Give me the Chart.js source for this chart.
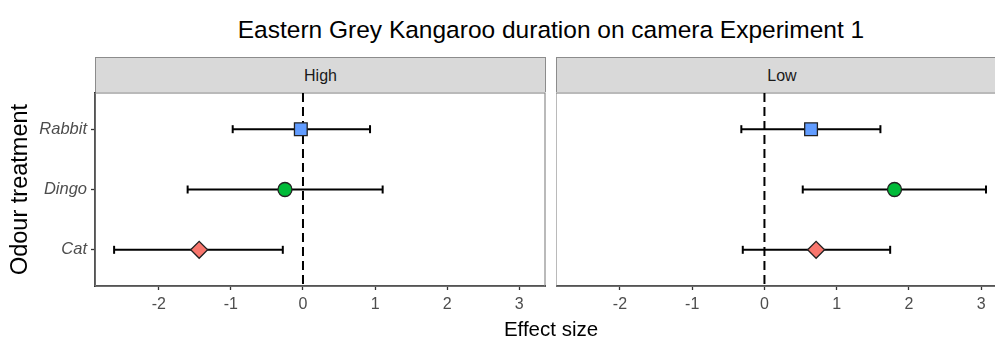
<!DOCTYPE html>
<html>
<head>
<meta charset="utf-8">
<script src="https://cdn.jsdelivr.net/npm/chart.js@4"></script>
<style>
  html, body { margin:0; padding:0; background:#fff; }
  body { width:995px; height:341px; overflow:hidden; position:relative; font-family:"Liberation Sans", Arial, sans-serif; }
  .abs { position:absolute; }
  #title { left:95px; width:912px; top:15px; text-align:center; font-size:24.5px; line-height:30px; color:#000; }
  #xtitle { left:95px; width:912px; top:317px; text-align:center; font-size:20.5px; line-height:24px; color:#000; }
  .strip { top:57px; height:35px; background:#d9d9d9; border:1px solid #8c8c8c; border-bottom:none; box-sizing:border-box;
           text-align:center; line-height:36px; font-size:16px; color:#1a1a1a; }
  #stripHigh { left:95px; width:451px; }
  #stripLow { left:556px; width:452px; }
  #wrapHigh { left:0; top:85px; width:546px; height:256px; }
  #wrapLow { left:556px; top:85px; width:452px; height:256px; }
</style>
</head>
<body>
<div id="title" class="abs">Eastern Grey Kangaroo duration on camera Experiment 1</div>
<div id="stripHigh" class="abs strip">High</div>
<div id="stripLow" class="abs strip">Low</div>
<div id="wrapHigh" class="abs"><canvas id="cHigh"></canvas></div>
<div id="wrapLow" class="abs"><canvas id="cLow"></canvas></div>
<div id="xtitle" class="abs">Effect size</div>
<script>
// ---- data ----
const categories = ['Rabbit', 'Dingo', 'Cat'];
const highEstimate = [-0.03, -0.25, -1.44];
const highLower    = [-0.975, -1.60, -2.62];
const highUpper    = [0.93, 1.105, -0.28];
const lowEstimate  = [0.645, 1.80, 0.715];
const lowLower     = [-0.32, 0.53, -0.30];
const lowUpper     = [1.605, 3.066, 1.74];
const xTicks = [-2, -1, 0, 1, 2, 3];
const panels = ['High', 'Low'];

// ---- styles ----
const markerStyles = ['rect', 'circle', 'rectRot'];
const markerColors = ['#619CFF', '#00BA38', '#F8766D'];
const markerRadii = [9, 7, 8.5];

Chart.defaults.font.family = '"Liberation Sans", Arial, sans-serif';

const panelBorder = {
  id: 'panelBorder',
  beforeDatasetsDraw(chart) {
    const a = chart.chartArea, ctx = chart.ctx;
    ctx.save();
    ctx.strokeStyle = '#8c8c8c';
    ctx.lineWidth = 1.2;
    ctx.strokeRect(a.left, a.top, a.right - a.left, a.bottom - a.top);
    ctx.restore();
  }
};

function zeroPad(s) { s.paddingLeft = 0; s.paddingRight = 0; s.paddingTop = 0; s.paddingBottom = 0; }

function makeChart(id, est, lo, hi, showY) {
  const datasets = [];
  datasets.push({
    label: 'estimate',
    data: categories.map((c, i) => ({ x: est[i], y: i + 1 })),
    pointStyle: markerStyles,
    pointRadius: markerRadii,
    pointHoverRadius: markerRadii,
    backgroundColor: markerColors,
    borderColor: '#222',
    borderWidth: 1.3,
    clip: false,
    order: 0
  });
  datasets.push({
    label: 'zero',
    data: [{ x: 0, y: 0.4 }, { x: 0, y: 3.6 }],
    showLine: true,
    borderColor: '#000',
    borderWidth: 2,
    borderDash: [9, 5],
    pointRadius: 0,
    clip: false,
    order: 1
  });
  categories.forEach((c, i) => {
    datasets.push({
      label: 'ci ' + c,
      data: [{ x: lo[i], y: i + 1 }, { x: hi[i], y: i + 1 }],
      showLine: true,
      borderColor: '#000',
      borderWidth: 2,
      pointStyle: 'line',
      pointRadius: 4,
      pointRotation: 90,
      pointBorderColor: '#000',
      pointBorderWidth: 2,
      clip: false,
      order: 2
    });
  });

  return new Chart(document.getElementById(id), {
    type: 'scatter',
    data: { datasets },
    plugins: [panelBorder],
    options: {
      responsive: true,
      maintainAspectRatio: false,
      animation: false,
      events: [],
      layout: { autoPadding: false, padding: { top: 8, right: 1, left: 0, bottom: 0 } },
      plugins: { legend: { display: false }, tooltip: { enabled: false }, title: { display: false } },
      scales: {
        x: {
          type: 'linear',
          min: -2.885,
          max: 3.357,
          afterBuildTicks: s => { s.ticks = xTicks.map(v => ({ value: v })); },
          afterFit: s => { s.height = 55; zeroPad(s); },
          ticks: { color: '#4d4d4d', font: { size: 16 }, padding: 5, autoSkip: false, maxRotation: 0,
                   callback: v => String(v) },
          grid: { drawOnChartArea: false, tickLength: 4, tickColor: '#333', tickWidth: 1.3 },
          border: { display: true, color: '#000', width: 1.8 }
        },
        y: {
          type: 'linear',
          display: showY,
          min: 0.4,
          max: 3.6,
          reverse: true,
          afterBuildTicks: s => { s.ticks = categories.map((c, i) => ({ value: i + 1 })); },
          afterFit: s => { s.width = showY ? 95 : 0; zeroPad(s); },
          ticks: { color: '#4d4d4d', font: { size: 16.5, style: 'italic' }, padding: 4, autoSkip: false,
                   callback: v => categories[v - 1] },
          grid: { drawOnChartArea: false, tickLength: 4, tickColor: '#333', tickWidth: 1.3 },
          border: { display: true, color: '#000', width: 1.8 },
          title: { display: true, text: 'Odour treatment', color: '#000', font: { size: 23.5 }, padding: { top: 6, bottom: 0 } }
        }
      }
    }
  });
}

makeChart('cHigh', highEstimate, highLower, highUpper, true);
makeChart('cLow', lowEstimate, lowLower, lowUpper, false);
</script>
</body>
</html>
